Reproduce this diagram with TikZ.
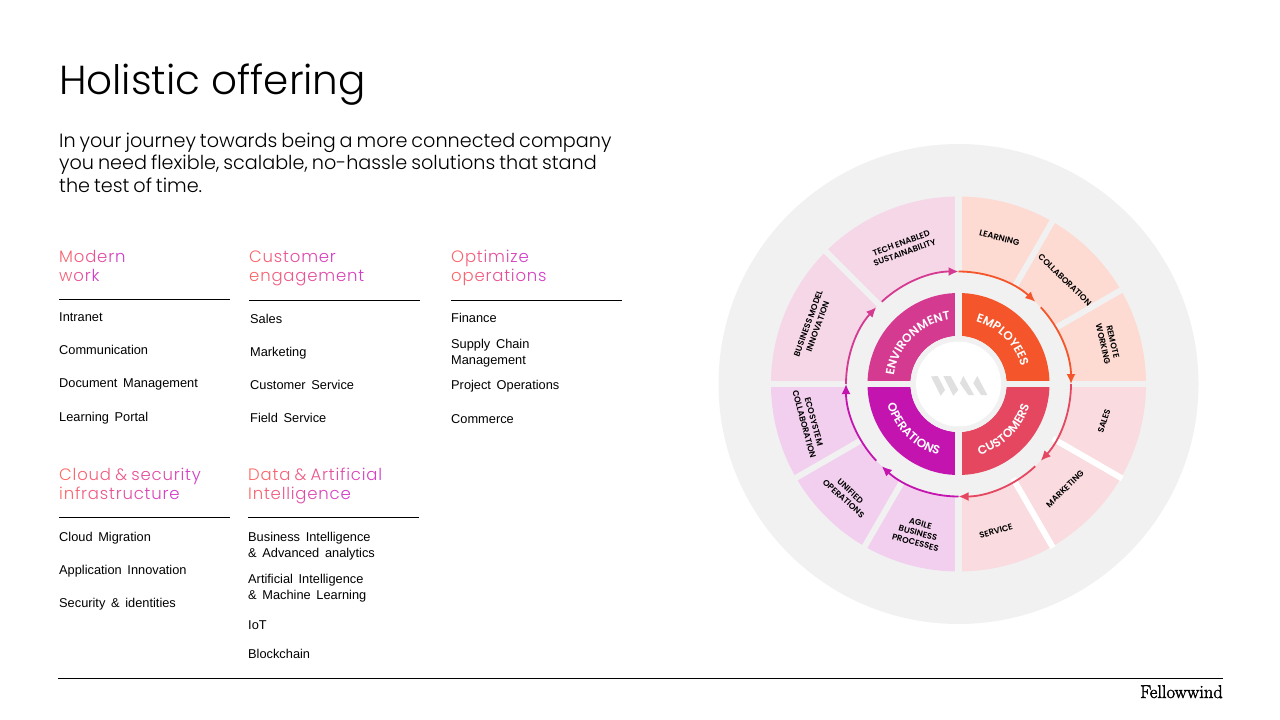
\documentclass[tikz,border=0pt]{standalone}
\usepackage{fontspec}
\usetikzlibrary{decorations.text,arrows.meta}
\setsansfont{Poppins}[UprightFont=* Light,BoldFont=* SemiBold]
\newfontfamily\headfont{Poppins}[UprightFont=* Light,WordSpace=0.6]
\newfontfamily\introfont{Poppins}[UprightFont=* Light,WordSpace=0.75]
\newfontfamily\bodyfont{Liberation Sans}[WordSpace=1.6]
\newfontfamily\logofont{Latin Modern Roman}[FakeBold=2]
\definecolor{wheelgray}{HTML}{F1F1F1}
\definecolor{gradL}{HTML}{FF6B5C}
\definecolor{gradR}{HTML}{D23CC8}
\definecolor{empcol}{HTML}{F4552A}
\definecolor{cuscol}{HTML}{E4475F}
\definecolor{opscol}{HTML}{C414B0}
\definecolor{envcol}{HTML}{D53A91}
\definecolor{emplight}{HTML}{FDDAD2}
\definecolor{cuslight}{HTML}{F9DBE0}
\definecolor{opslight}{HTML}{F2CFEE}
\definecolor{envlight}{HTML}{F6D7E8}
\definecolor{logogray}{HTML}{E0E0E0}
\ExplSyntaxOn
\NewDocumentCommand\gradtext{m}{
  \int_zero:N \l_tmpa_int
  \str_map_inline:nn {#1}{
    \int_incr:N \l_tmpa_int
    \str_if_eq:nnTF {##1}{~}{\space}{
      \textcolor{gradR!\int_eval:n{100*\l_tmpa_int/\str_count:n{#1}}!gradL}{##1}\kern 0.8pt
    }
  }
}
\ExplSyntaxOff
\tikzset{
  heading/.style={anchor=base west,inner sep=0pt,font=\headfont\fontsize{16.5}{19}\selectfont,align=left},
  listitem/.style={anchor=base west,inner sep=0pt,font=\bodyfont\fontsize{12.8}{16}\selectfont,align=left},
  ringlabel/.style={inner sep=0pt,align=center,font=\sffamily\bfseries\fontsize{8.4}{10}\selectfont},
  corelabel/.style={decorate,decoration={text along path,text align=center,
      text={|\sffamily\bfseries\fontsize{12}{12}\selectfont\color{white}|#1}}},
  rulerline/.style={line width=0.9pt,black},
  ringarrow/.style={line width=1.8pt,-{Latex[length=10pt,width=9pt]}}
}
\begin{document}
\begin{tikzpicture}[x=1pt,y=-1pt]
\useasboundingbox (0,0) rectangle (1280,720);
\coordinate (Hub) at (958.5,384);
% title and intro
\node[anchor=base west,inner sep=0pt,font=\sffamily\fontsize{40.5}{42}\selectfont] (title) at (59,94) {Holistic offering};
\node[anchor=base west,inner sep=0pt,font=\introfont\fontsize{19.2}{22.5}\selectfont,align=left] (intro) at (59,192)
  {In your journey towards being a more connected company\\you need flexible, scalable, no-hassle solutions that stand\\the test of time.};
% headings
\node[heading] (modern) at (59,281) {\gradtext{Modern}\\\gradtext{work}};
\node[heading] (customer) at (249,281) {\gradtext{Customer}\\\gradtext{engagement}};
\node[heading] (optimize) at (451,281) {\gradtext{Optimize}\\\gradtext{operations}};
\node[heading] (cloud) at (59,499) {\gradtext{Cloud & security}\\\gradtext{infrastructure}};
\node[heading] (data) at (248,499) {\gradtext{Data & Artificial}\\\gradtext{Intelligence}};
\draw[rulerline] (59,299.5) -- (230,299.5);
\draw[rulerline] (249,300.5) -- (420,300.5);
\draw[rulerline] (451,300.5) -- (622,300.5);
\draw[rulerline] (59,517.5) -- (230,517.5);
\draw[rulerline] (248,517.5) -- (419,517.5);
\draw[rulerline] (58,678.5) -- (1223,678.5);
% lists
\foreach \yy/\txt [count=\i] in {321/Intranet,354/Communication,387/Document Management,421/Learning Portal}
  \node[listitem] (modern\i) at (59,\yy) {\txt};
\foreach \yy/\txt [count=\i] in {323/Sales,356/Marketing,389/Customer Service,422/Field Service}
  \node[listitem] (customer\i) at (250,\yy) {\txt};
\node[listitem] (optimize1) at (451,322) {Finance};
\node[listitem] (optimize2) at (451,364) {Supply Chain\\Management};
\node[listitem] (optimize3) at (451,389) {Project Operations};
\node[listitem] (optimize4) at (451,423) {Commerce};
\foreach \yy/\txt [count=\i] in {541/Cloud Migration,574/Application Innovation,607/Security \& identities}
  \node[listitem] (cloud\i) at (59,\yy) {\txt};
\node[listitem] (data1) at (248,557) {Business Intelligence\\\& Advanced analytics};
\node[listitem] (data2) at (248,599) {Artificial Intelligence\\\& Machine Learning};
\node[listitem] (data3) at (248,629) {IoT};
\node[listitem] (data4) at (248,658) {Blockchain};
% logo
\node[anchor=base east,inner sep=0pt,font=\logofont\fontsize{18.5}{18.5}\selectfont] (logo) at (1223,698) {Fellowwind};
% wheel
\fill[wheelgray] (Hub) circle (240);
\begin{scope}[shift={(Hub)}]
  % ring and core, four quadrants
  \foreach \sa/\lightcol/\corecol in {270/emplight/empcol,0/cuslight/cuscol,90/opslight/opscol,180/envlight/envcol}{
    \fill[\lightcol] (\sa:112.5) arc[start angle=\sa,end angle=\sa+90,radius=112.5]
      -- (\sa+90:187.5) arc[start angle=\sa+90,end angle=\sa,radius=187.5] -- cycle;
    \fill[\corecol] (\sa:48) arc[start angle=\sa,end angle=\sa+90,radius=48]
      -- (\sa+90:91) arc[start angle=\sa+90,end angle=\sa,radius=91] -- cycle;
  }
  % gaps
  \draw[wheelgray,line width=6.8pt] (-195,0) -- (195,0);
  \draw[wheelgray,line width=6.8pt] (0,-195) -- (0,195);
  \foreach \a in {120,150,225,300,330}
    \draw[wheelgray,line width=6pt] (\a:110) -- (\a:190);
  \foreach \a in {30,60}
    \draw[white,line width=6pt] (\a:109) -- (\a:189);
  \fill[wheelgray] (0,0) circle (48);
  \fill[white] (0,0) circle (42.5);
  % arrows round the ring
  \foreach \sa/\corecol in {270/empcol,0/cuscol,90/opscol,180/envcol}{
    \draw[ringarrow,\corecol] (\sa:112.5) arc[start angle=\sa,end angle=\sa+43,radius=112.5];
    \draw[ringarrow,\corecol] (\sa+47:112.5) arc[start angle=\sa+47,end angle=\sa+90,radius=112.5];
  }
  % core labels
  \path[corelabel=EMPLOYEES] (270:65) arc[start angle=270,end angle=360,radius=65];
  \path[corelabel=ENVIRONMENT] (180:65) arc[start angle=180,end angle=270,radius=65];
  \path[corelabel=CUSTOMERS] (90:74) arc[start angle=90,end angle=0,radius=74];
  \path[corelabel=OPERATIONS] (180:74) arc[start angle=180,end angle=90,radius=74];
\end{scope}
% centre mark
\fill[logogray] (931,376.5) -- (937.7,376) -- (945,390) -- (940.7,395.7) -- cycle;
\fill[logogray] (943.3,376) -- (950.7,376) -- (958.3,390) -- (953.3,395.7) -- cycle;
\fill[logogray] (960,383.3) -- (963.3,376) -- (974,395) -- (968.3,395) -- cycle;
\fill[logogray] (973.3,383.3) -- (977.3,376) -- (987.3,395) -- (981,395) -- cycle;
% ring labels
\node[ringlabel,rotate=-14] (learning) at (999.5,238) {LEARNING};
\node[ringlabel,rotate=-44] (collaboration) at (1065,280) {COLLABORATION};
\node[ringlabel,rotate=-77] (remote) at (1108,343) {REMOTE\\WORKING};
\node[ringlabel,rotate=72] (sales) at (1104,421) {SALES};
\node[ringlabel,rotate=44] (marketing) at (1065,489) {MARKETING};
\node[ringlabel,rotate=16] (service) at (996,531) {SERVICE};
\node[ringlabel,rotate=-15] (agile) at (918,533) {AGILE\\BUSINESS\\PROCESSES};
\node[ringlabel,rotate=-42] (unified) at (847,495) {UNIFIED\\OPERATIONS};
\node[ringlabel,rotate=-75] (ecosystem) at (809,423) {ECOSYSTEM\\COLLABORATION};
\node[ringlabel,rotate=70] (business) at (813,325) {BUSINESS MODEL\\INNOVATION};
\node[ringlabel,rotate=20] (tech) at (903,248) {TECH ENABLED\\SUSTAINABILITY};
\end{tikzpicture}
\end{document}
